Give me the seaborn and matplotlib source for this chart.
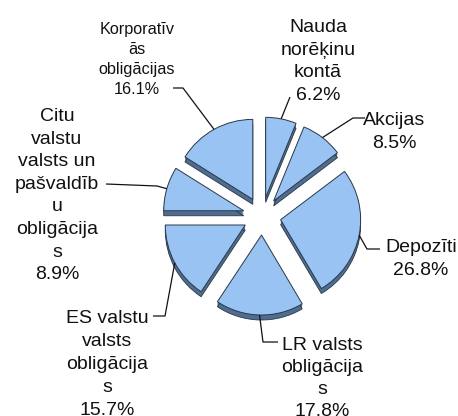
import matplotlib
matplotlib.use("Agg")
import matplotlib.pyplot as plt
import numpy as np
import seaborn as sns
from matplotlib import font_manager

# shares of the portfolio, clockwise from 12 o'clock
categories = [
    "Nauda\nnorēķinu\nkontā",
    "Akcijas",
    "Depozīti",
    "LR valsts\nobligācija\ns",
    "ES valstu\nvalsts\nobligācija\ns",
    "Citu\nvalstu\nvalsts un\npašvaldīb\nu\nobligācija\ns",
    "Korporatīv\nās\nobligācijas",
]
shares = [6.2, 8.5, 26.8, 17.8, 15.7, 8.9, 16.1]
pct_labels = ["{:.1f}%".format(v) for v in shares]

sns.set_theme(style="white")

# the reference text is narrow, use the narrow face when it is there
try:
    font_manager.findfont("Liberation Sans Narrow", fallback_to_default=False)
    family, big_px, small_px = "Liberation Sans Narrow", 23.0, 19.4
except ValueError:
    family, big_px, small_px = "Liberation Sans", 19.5, 16.3
plt.rcParams["font.family"] = [family, "DejaVu Sans"]

W, H = 458, 416
fig = plt.figure(figsize=(W / 100, H / 100), dpi=100, facecolor="white")
ax = fig.add_axes([0, 0, 1, 1])

cx, cy = 262, 216
radius = 80
gap = 19
depth = 5
top_col = "#99c3f3"
rim_col = "#4f6d90"
edge_col = "#2b3847"

# side of the slices: stacked copies pushed downwards
for d in range(1, depth + 1):
    ax.pie(
        shares,
        radius=radius,
        center=(cx, cy + d),
        explode=[gap] * len(shares),
        startangle=-90,
        counterclock=True,
        colors=[rim_col] * len(shares),
        wedgeprops=dict(linewidth=0.6 if d == depth else 0, edgecolor=edge_col),
    )

wedges, _ = ax.pie(
    shares,
    radius=radius,
    center=(cx, cy),
    explode=[gap] * len(shares),
    startangle=-90,
    counterclock=True,
    colors=[top_col] * len(shares),
    wedgeprops=dict(linewidth=0.7, edgecolor=edge_col),
)

# label layout: centre x, centre y of first line, line step, font px
label_pos = [
    (318, 25, 22.5, big_px),
    (394, 118, 22.5, big_px),
    (421, 245, 22.5, big_px),
    (322, 343, 22, big_px),
    (107, 316, 23, big_px),
    (57, 114, 22.6, big_px),
    (137, 28, 20, small_px),
]
# elbow points of the leader lines (from slice towards the label)
elbows = [
    [(290, 97)],
    [(353, 118), (365, 118)],
    [(367, 249), (380, 249)],
    [(263, 342), (278, 342)],
    [(165, 316), (153, 316)],
    [(157, 186), (106, 184)],
    [(183, 88), (173, 88)],
]

for w, name, pct, (lx, ly, step, px), pts in zip(wedges, categories, pct_labels, label_pos, elbows):
    ang = np.deg2rad((w.theta1 + w.theta2) / 2)
    sx = w.center[0] + w.r * np.cos(ang)
    sy = w.center[1] + w.r * np.sin(ang)
    xs = [sx] + [p[0] for p in pts]
    ys = [sy] + [p[1] for p in pts]
    ax.plot(xs, ys, color="#111111", linewidth=0.9, solid_capstyle="butt")

    lines = name.split("\n") + [pct]
    for i, line in enumerate(lines):
        ax.text(
            lx,
            ly + i * step + 0.36 * px,
            line,
            ha="center",
            va="baseline",
            fontsize=px * 0.72,
            color="#111111",
        )

ax.set_xlim(0, W)
ax.set_ylim(H, 0)
ax.set_aspect("auto")
ax.axis("off")

fig.savefig("out.png", dpi=100, facecolor="white")
